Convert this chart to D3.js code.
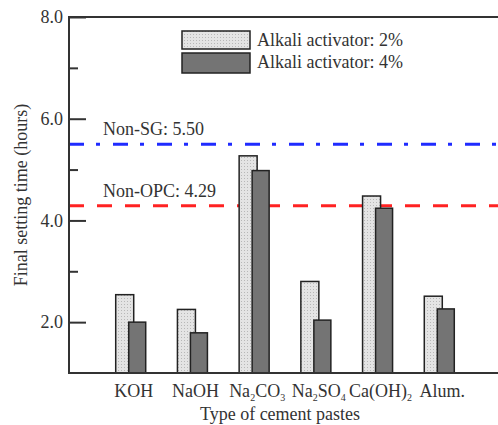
<!DOCTYPE html>
<html>
<head>
<meta charset="utf-8">
<script src="https://cdn.jsdelivr.net/npm/d3@7"></script>
<style>
  body { margin: 0; background: #fff; }
  svg text { font-family: "Liberation Serif", "Times New Roman", serif; fill: #333; }
</style>
</head>
<body>
<svg id="chart" width="498" height="425"></svg>
<script>
// chart data
var categories = ["KOH", "NaOH", "Na2CO3", "Na2SO4", "Ca(OH)2", "Alum."];
var activator2 = [2.54, 2.25, 5.27, 2.80, 4.48, 2.51];
var activator4 = [2.00, 1.79, 4.98, 2.04, 4.24, 2.26];
var seriesNames = ["Alkali activator: 2%", "Alkali activator: 4%"];
var refNames = ["Non-SG: 5.50", "Non-OPC: 4.29"];
var refValues = [5.50, 4.29];
var majorTicks = [2, 4, 6, 8];
var minorTicks = [3, 5, 7];

function drawChart() {
  var svg = d3.select('#chart');
  var left = 69, plotTop = 17, bottom = 373, right = 498;

  var y = d3.scaleLinear().domain([1, 8]).range([bottom, plotTop]);
  // group centres sit at 1..6 on a 0..7 index scale
  var x = d3.scaleLinear().domain([0, 7]).range([left, 501]);
  var barW = 17;

  // stipple pattern for the 2% bars
  var defs = svg.append('defs');
  var pat = defs.append('pattern')
    .attr('id', 'dots')
    .attr('patternUnits', 'userSpaceOnUse')
    .attr('width', 3).attr('height', 3);
  pat.append('rect').attr('width', 3).attr('height', 3).attr('fill', '#e4e4e4');
  pat.append('rect').attr('x', 1).attr('y', 1).attr('width', 1).attr('height', 1).attr('fill', '#b8b8b8');

  // reference lines
  var refStyles = [
    { color: '#1f2bff', dash: '15,12,4,13' },
    { color: '#ff2222', dash: '15,13' }
  ];
  refValues.forEach(function(v, i) {
    svg.append('line')
      .attr('x1', left).attr('x2', right)
      .attr('y1', y(v)).attr('y2', y(v))
      .attr('stroke', refStyles[i].color)
      .attr('stroke-width', 3)
      .attr('stroke-dasharray', refStyles[i].dash);
    svg.append('text')
      .attr('x', 103).attr('y', y(v) - 9)
      .attr('font-size', 18)
      .text(refNames[i]);
  });

  // bars
  var groups = svg.selectAll('.grp')
    .data(categories)
    .enter().append('g').attr('class', 'grp');

  groups.append('rect')
    .attr('x', function(d, i) { return x(i + 1) - 15; })
    .attr('y', function(d, i) { return y(activator2[i]); })
    .attr('width', barW + 1)
    .attr('height', function(d, i) { return bottom - y(activator2[i]); })
    .attr('fill', 'url(#dots)')
    .attr('stroke', '#222').attr('stroke-width', 1.5);

  groups.append('rect')
    .attr('x', function(d, i) { return x(i + 1) - 2; })
    .attr('y', function(d, i) { return y(activator4[i]); })
    .attr('width', barW)
    .attr('height', function(d, i) { return bottom - y(activator4[i]); })
    .attr('fill', '#747474')
    .attr('stroke', '#222').attr('stroke-width', 1.5);

  // frame: left, top, bottom (no right edge)
  svg.append('path')
    .attr('d', 'M' + right + ',' + plotTop + 'H' + left + 'V' + bottom + 'H' + right)
    .attr('fill', 'none').attr('stroke', '#333').attr('stroke-width', 2);

  // y ticks, pointing inward
  var yAxis = d3.axisLeft(y).tickValues(majorTicks).tickSize(-17).tickPadding(6)
    .tickFormat(d3.format('.1f'));
  var ya = svg.append('g').attr('transform', 'translate(' + left + ',0)').call(yAxis);
  ya.select('.domain').remove();
  ya.selectAll('.tick line').attr('stroke', '#333').attr('stroke-width', 2);
  ya.selectAll('.tick text')
    .attr('font-size', 18).attr('font-family', '"Liberation Serif", serif').attr('fill', '#333');

  var yMinor = d3.axisLeft(y).tickValues(minorTicks).tickSize(-9).tickFormat('');
  var ym = svg.append('g').attr('transform', 'translate(' + left + ',0)').call(yMinor);
  ym.select('.domain').remove();
  ym.selectAll('.tick line').attr('stroke', '#333').attr('stroke-width', 2);

  // x category labels with subscripts
  var xl = svg.selectAll('.xlab')
    .data(categories)
    .enter().append('text')
    .attr('class', 'xlab')
    .attr('x', function(d, i) { return x(i + 1) + 3; })
    .attr('y', 397)
    .attr('text-anchor', 'middle')
    .attr('font-size', 18);

  xl.each(function(d) {
    var t = d3.select(this);
    var parts = d.match(/[A-Za-z().]+|\d+/g);
    var shift = 0;
    parts.forEach(function(p) {
      if (/^\d+$/.test(p)) {
        t.append('tspan').attr('font-size', 10).attr('dy', 4).text(p);
        shift = 4;
      } else {
        t.append('tspan').attr('dy', -shift).text(p);
        shift = 0;
      }
    });
  });

  // axis titles
  svg.append('text')
    .attr('x', 280).attr('y', 420)
    .attr('text-anchor', 'middle')
    .attr('font-size', 18)
    .text('Type of cement pastes');

  svg.append('text')
    .attr('transform', 'translate(27,195) rotate(-90)')
    .attr('text-anchor', 'middle')
    .attr('font-size', 18)
    .text('Final setting time (hours)');

  // legend
  var legFills = ['url(#dots)', '#747474'];
  var legY = [31, 53];
  var legH = [18, 20];
  seriesNames.forEach(function(name, i) {
    svg.append('rect')
      .attr('x', 182).attr('y', legY[i])
      .attr('width', 68).attr('height', legH[i])
      .attr('fill', legFills[i])
      .attr('stroke', '#222').attr('stroke-width', 1.5);
    svg.append('text')
      .attr('x', 257).attr('y', legY[i] + 15)
      .attr('font-size', 18)
      .text(name);
  });
}

drawChart();
</script>
</body>
</html>
